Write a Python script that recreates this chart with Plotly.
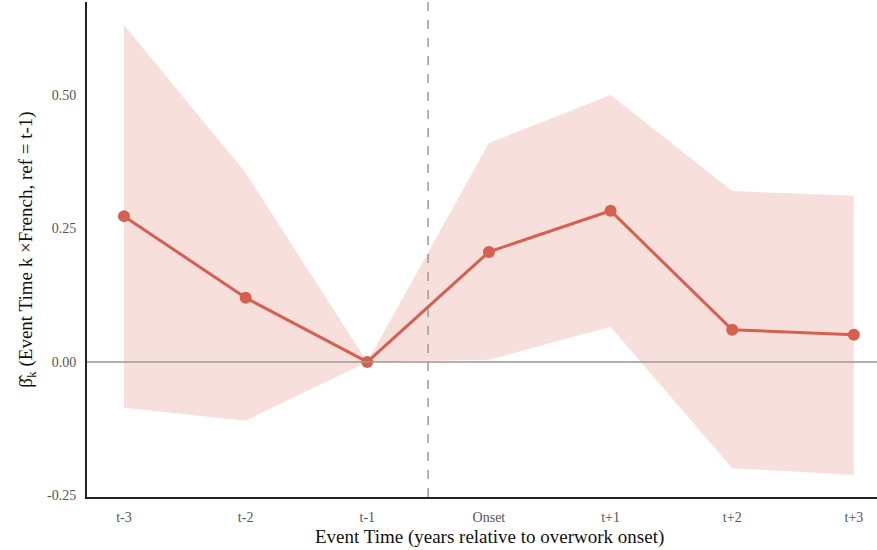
import plotly.graph_objects as go

# Event-study estimates: interaction of event time with French indicator
event_time = ["t-3", "t-2", "t-1", "Onset", "t+1", "t+2", "t+3"]
beta = [0.273, 0.120, 0.0, 0.206, 0.283, 0.060, 0.051]
ci_upper = [0.631, 0.354, 0.0, 0.410, 0.500, 0.320, 0.311]
ci_lower = [-0.086, -0.110, 0.0, 0.004, 0.066, -0.199, -0.212]

y_ticks = [-0.25, 0.0, 0.25, 0.50]
y_tick_text = ["-0.25", "0.00", "0.25", "0.50"]

line_color = "#d6604d"
band_color = "rgba(214,96,77,0.20)"
font_family = "Liberation Serif, Times New Roman, serif"

x_idx = list(range(len(event_time)))

fig = go.Figure()

# Confidence band
fig.add_trace(go.Scatter(
    x=x_idx + x_idx[::-1],
    y=ci_upper + ci_lower[::-1],
    fill="toself",
    fillcolor=band_color,
    line=dict(width=0),
    mode="lines",
    hoverinfo="skip",
    showlegend=False,
))

# Point estimates
fig.add_trace(go.Scatter(
    x=x_idx,
    y=beta,
    mode="lines+markers",
    line=dict(color=line_color, width=3),
    marker=dict(color=line_color, size=12),
    showlegend=False,
))

# Zero reference line and onset divider
fig.add_hline(y=0, line=dict(color="#999999", width=1.5))
fig.add_vline(x=2.5, line=dict(color="#999999", width=1.5, dash="dash"))

# X-axis title placed as an annotation below the tick labels
fig.add_annotation(
    text="Event Time (years relative to overwork onset)",
    xref="paper", yref="paper",
    x=0.5095, y=-0.081,
    xanchor="center", yanchor="middle",
    showarrow=False,
    font=dict(family=font_family, size=19, color="#111111"),
)

fig.update_layout(
    width=877,
    height=550,
    margin=dict(l=87, r=0, t=2, b=53),
    plot_bgcolor="white",
    paper_bgcolor="white",
    font=dict(family=font_family, size=14, color="#555555"),
    xaxis=dict(
        range=[-0.304, 6.19],
        tickmode="array",
        tickvals=x_idx,
        ticktext=event_time,
        showgrid=False,
        zeroline=False,
        showline=True,
        linecolor="#222222",
        linewidth=2,
        ticks="",
        ticklabelstandoff=6,
        tickfont=dict(size=14, color="#555555"),
    ),
    yaxis=dict(
        range=[-0.253, 0.674],
        tickmode="array",
        tickvals=y_ticks,
        ticktext=y_tick_text,
        showgrid=False,
        zeroline=False,
        showline=True,
        linecolor="#222222",
        linewidth=2,
        ticks="",
        ticklabelstandoff=6,
        tickfont=dict(size=14, color="#555555"),
        title=dict(
            text="β\u0302<sub>k</sub> (Event Time k ×French, ref = t-1)",
            font=dict(size=19, color="#111111"),
            standoff=9,
        ),
    ),
)

fig.write_html("out.html")
